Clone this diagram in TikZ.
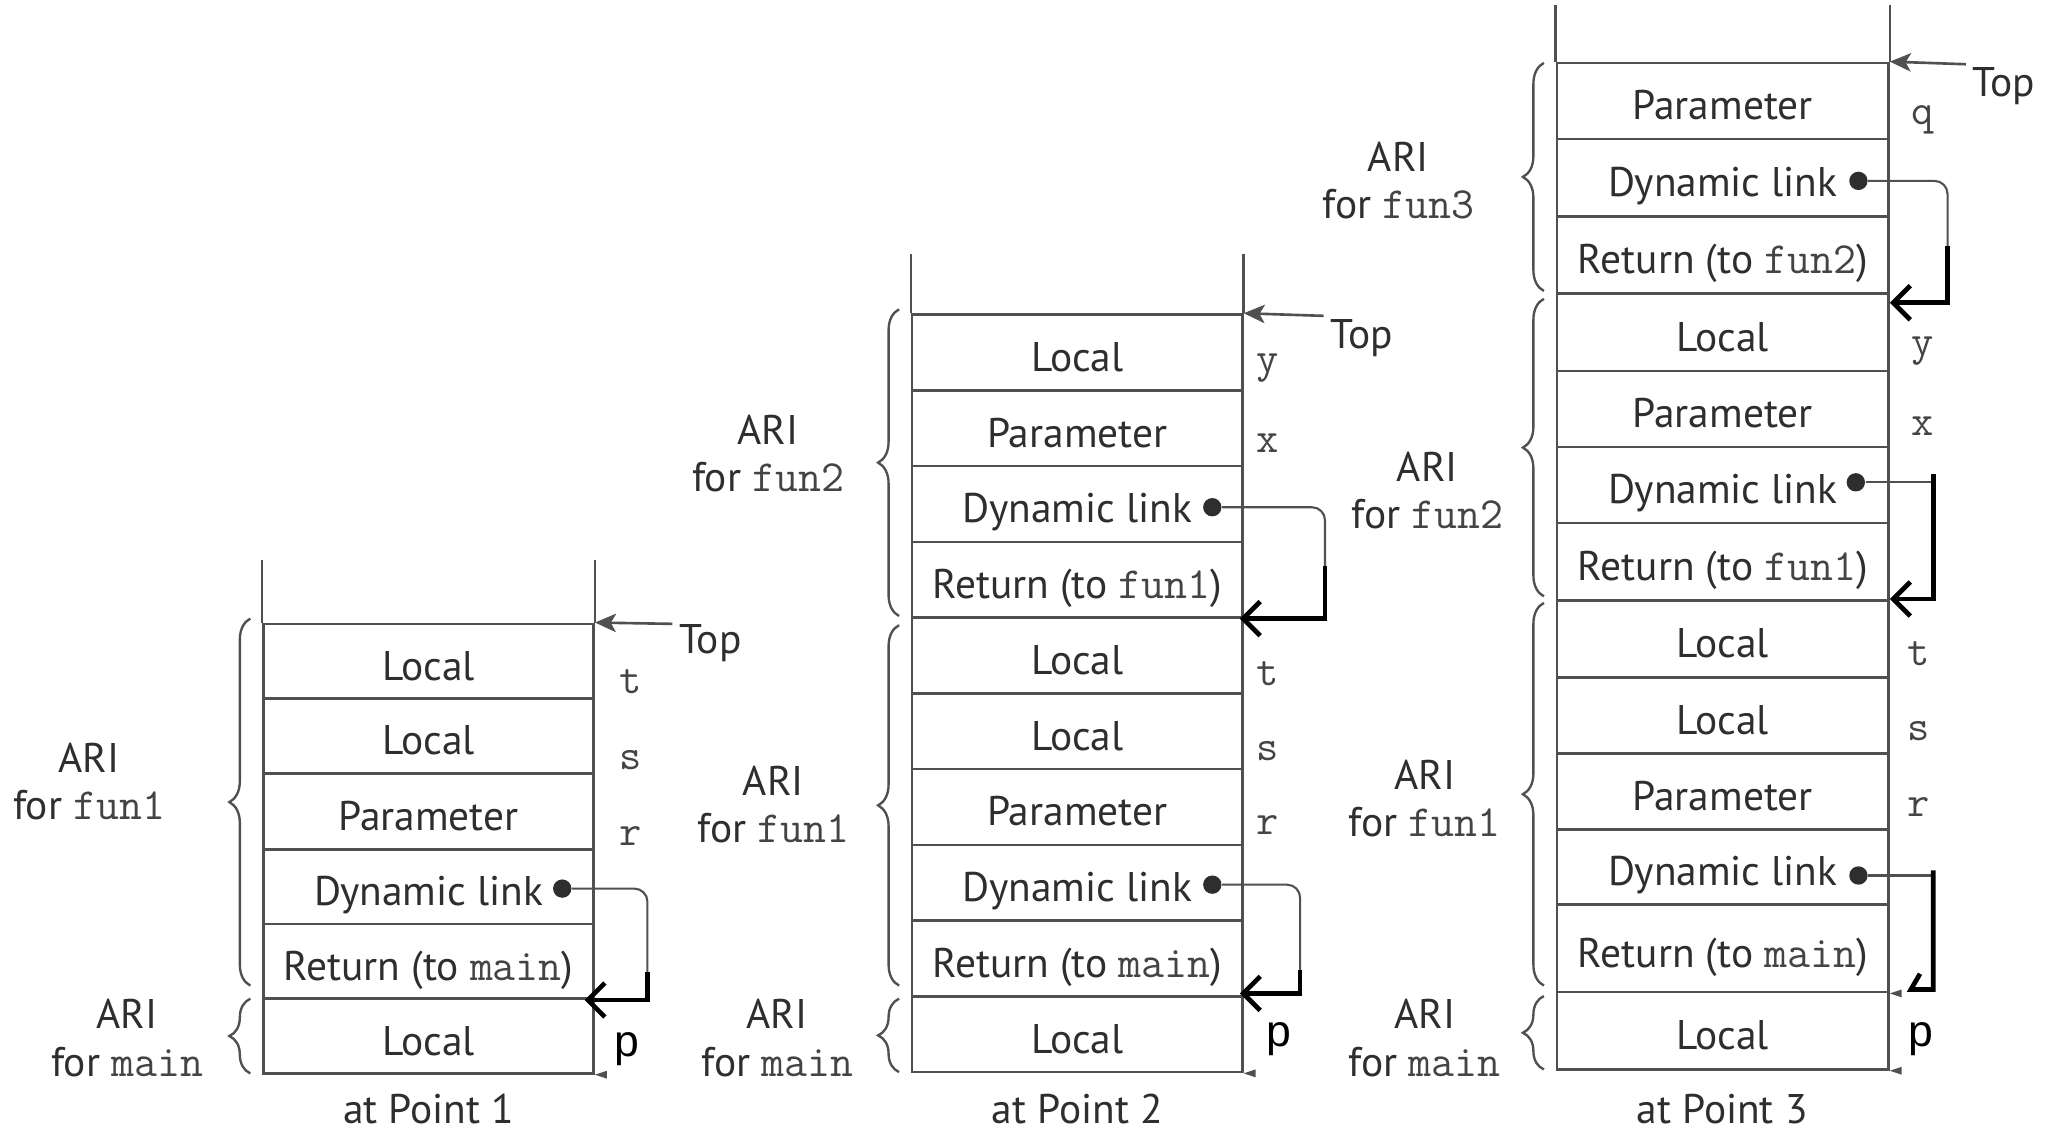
\documentclass[tikz,border=0pt]{standalone}
\usepackage{fontspec}
\setmainfont{PT Sans}
\newfontfamily\pfont{Liberation Sans}
\usetikzlibrary{arrows.meta,decorations.pathreplacing}
\definecolor{ln}{HTML}{505050}
\definecolor{tx}{HTML}{2E2E2E}
\definecolor{mo}{HTML}{444444}
\newcommand{\mtt}[1]{{\ttfamily\fontsize{17}{16}\selectfont\color{mo}#1}}
\begin{document}
\begin{tikzpicture}[x=0.5pt,y=-0.5pt,
  sf/.style={font=\fontsize{15.8}{18}\selectfont, text=tx},
  cell/.style={rectangle, draw=ln, line width=1pt, inner sep=0pt, text height=14.5pt, text depth=0pt, sf},
  ca/.style={cell, minimum width=126pt},
  cc/.style={cell, minimum width=126.5pt},
  var/.style={font=\ttfamily\fontsize{16.5}{16}\selectfont, text=mo, inner sep=0pt, text height=7.1pt, text depth=0pt},
  pl/.style={font=\pfont\fontsize{17}{18}\selectfont, text=black, inner sep=0pt, text height=8.8pt, text depth=0pt},
  ari/.style={sf, align=center, inner sep=0pt},
  dot/.style={circle, fill=tx, inner sep=0pt, minimum size=7pt},
  link/.style={draw=ln, line width=0.8pt, rounded corners=5pt},
  bk/.style={draw=black, line width=1.8pt, -{Straight Barb[length=6.5pt,width=13pt]}},
  bkp/.style={draw=black, line width=1.8pt},
  toparrow/.style={draw=ln, line width=1pt, -{Stealth[length=8pt,width=7pt,inset=2pt]}},
  brc/.style={draw=ln, line width=0.9pt, decorate, decoration={brace, amplitude=8pt}},
  stk/.style={draw=ln, line width=1pt},
  nub/.style={fill=ln},
]
\fill[white] (0,0) rectangle (1568,864);
\useasboundingbox (0,0) rectangle (1568,864);

% ===================== Stack 1 =====================
\node[ca, minimum height=28.5pt] (a1) at (327,504.5) {Local};
\node[ca, minimum height=28.5pt] (a2) at (327,561.5) {Local};
\node[ca, minimum height=29pt]   (a3) at (327,619) {Parameter};
\node[ca, minimum height=28.5pt] (a4) at (327,676.5) {Dynamic link};
\node[ca, minimum height=28.5pt] (a5) at (327,733.5) {Return (to \mtt{main})};
\node[ca, minimum height=28.5pt] (a6) at (327,790.5) {Local};
\draw[stk] (a1.north west) -- ++(0,-48);
\draw[stk] (a1.north east) -- ++(0,-48);

\coordinate (tpa) at (513,476);
\draw[toparrow] (tpa) -- (a1.north east);
\node[sf] (topa) at (542,491) {Top};

\node[var] (at) at (481,522) {t};
\node[var] (as) at (481,580) {s};
\node[var] (ar) at (481,638) {r};
\node[pl] (ap) at (478,797) {p};

\node[dot] (ad) at (429,678) {};
\coordinate (ak) at (494,742);
\coordinate (ae) at (446,763);
\draw[link] (ad) -| (ak);
\draw[bk] (ak) |- (ae);
\fill[nub] (a6.south east) -- ++(9,-3) -- ++(0,6) -- cycle;

\draw[brc] (191,752) -- (191,472);
\draw[brc] (191,819) -- (191,762);
\node[ari] (la1) at (68,596) {ARI\\for \mtt{fun1}};
\node[ari] (la2) at (97,792) {ARI\\for \mtt{main}};
\node[sf] (pa) at (327,846) {at Point 1};

% ===================== Stack 2 =====================
\node[ca, minimum height=28.9pt] (b1) at (822,268.9) {Local};
\node[ca, minimum height=28.9pt] (b2) at (822,326.7) {Parameter};
\node[ca, minimum height=28.9pt] (b3) at (822,384.5) {Dynamic link};
\node[ca, minimum height=28.9pt] (b4) at (822,442.3) {Return (to \mtt{fun1})};
\node[ca, minimum height=28.9pt] (b5) at (822,500.1) {Local};
\node[ca, minimum height=28.9pt] (b6) at (822,557.9) {Local};
\node[ca, minimum height=28.9pt] (b7) at (822,615.7) {Parameter};
\node[ca, minimum height=28.9pt] (b8) at (822,673.5) {Dynamic link};
\node[ca, minimum height=28.9pt] (b9) at (822,731.3) {Return (to \mtt{main})};
\node[ca, minimum height=28.9pt] (b10) at (822,789.1) {Local};
\draw[stk] (b1.north west) -- ++(0,-45);
\draw[stk] (b1.north east) -- ++(0,-45);

\coordinate (tpb) at (1010,241);
\draw[toparrow] (tpb) -- (b1.north east);
\node[sf] (topb) at (1039,258) {Top};

\node[var] (by) at (967,277) {y};
\node[var] (bx) at (967,338) {x};
\node[var] (bt) at (967,516) {t};
\node[var] (bs) at (967,573) {s};
\node[var] (br) at (967,630) {r};
\node[pl] (bp) at (976,790) {p};

\node[dot] (bd1) at (925,387) {};
\coordinate (bk1) at (1011,432);
\coordinate (be1) at (946,472);
\draw[link] (bd1) -| (bk1);
\draw[bk] (bk1) |- (be1);

\node[dot] (bd2) at (925,675) {};
\coordinate (bk2) at (992,740);
\coordinate (be2) at (946,758);
\draw[link] (bd2) -| (bk2);
\draw[bk] (bk2) |- (be2);
\fill[nub] (b10.south east) -- ++(9,-3) -- ++(0,6) -- cycle;

\draw[brc] (686,470) -- (686,236);
\draw[brc] (686,752) -- (686,477);
\draw[brc] (686,818) -- (686,762);
\node[ari] (lb1) at (586,346) {ARI\\for \mtt{fun2}};
\node[ari] (lb2) at (590,614) {ARI\\for \mtt{fun1}};
\node[ari] (lb3) at (593,792) {ARI\\for \mtt{main}};
\node[sf] (pb) at (822,846) {at Point 2};

% ===================== Stack 3 =====================
\node[cc, minimum height=29pt]   (c1) at (1314.5,77) {Parameter};
\node[cc, minimum height=29.5pt] (c2) at (1314.5,135.5) {Dynamic link};
\node[cc, minimum height=29.5pt] (c3) at (1314.5,194.5) {Return (to \mtt{fun2})};
\node[cc, minimum height=29.5pt] (c4) at (1314.5,253.5) {Local};
\node[cc, minimum height=29pt]   (c5) at (1314.5,312) {Parameter};
\node[cc, minimum height=29pt]   (c6) at (1314.5,370) {Dynamic link};
\node[cc, minimum height=29.5pt] (c7) at (1314.5,428.5) {Return (to \mtt{fun1})};
\node[cc, minimum height=29.5pt] (c8) at (1314.5,487.5) {Local};
\node[cc, minimum height=29pt]   (c9) at (1314.5,546) {Local};
\node[cc, minimum height=29pt]   (c10) at (1314.5,604) {Parameter};
\node[cc, minimum height=28.5pt] (c11) at (1314.5,661.5) {Dynamic link};
\node[cc, minimum height=33.5pt] (c12) at (1314.5,723.5) {Return (to \mtt{main})};
\node[cc, minimum height=29.5pt] (c13) at (1314.5,786.5) {Local};
\draw[stk] (c1.north west) -- ++(0,-43);
\draw[stk] (c1.north east) -- ++(0,-43);

\coordinate (tpc) at (1500,49);
\draw[toparrow] (tpc) -- (c1.north east);
\node[sf] (topc) at (1529,66) {Top};

\node[var] (cq) at (1467,88) {q};
\node[var] (cy) at (1467,264) {y};
\node[var] (cx) at (1467,325) {x};
\node[var] (ct) at (1464,501) {t};
\node[var] (cs) at (1464,558) {s};
\node[var] (cr) at (1464,616) {r};
\node[pl] (cp) at (1466,790) {p};

\node[dot] (cd1) at (1418,138) {};
\coordinate (ck1) at (1486,188);
\coordinate (ce1) at (1442,231);
\draw[link] (cd1) -| (ck1);
\draw[bk] (ck1) |- (ce1);

\node[dot] (cd2) at (1416,368) {};
\coordinate (ck2) at (1475,368);
\coordinate (ck2b) at (1475,362);
\coordinate (ce2) at (1442,457);
\draw[link] (cd2) -- (ck2);
\draw[bk] (ck2b) |- (ce2);

\node[dot] (cd3) at (1418,668) {};
\coordinate (ck3) at (1475,668);
\coordinate (ck3b) at (1475,664);
\coordinate (ce3) at (1458,755);
\coordinate (cb3) at (1465,743);
\draw[link] (cd3) -- (ck3);
\draw[bkp] (ck3b) |- (ce3) -- (cb3);
\fill[nub] (c12.south east) -- ++(9,-3) -- ++(0,6) -- cycle;
\fill[nub] (c13.south east) -- ++(9,-3) -- ++(0,6) -- cycle;

\draw[brc] (1178,222) -- (1178,48);
\draw[brc] (1178,455) -- (1178,228);
\draw[brc] (1178,752) -- (1178,460);
\draw[brc] (1178,816) -- (1178,760);
\node[ari] (lc1) at (1067,138) {ARI\\for \mtt{fun3}};
\node[ari] (lc2) at (1089,374) {ARI\\for \mtt{fun2}};
\node[ari] (lc3) at (1087,609) {ARI\\for \mtt{fun1}};
\node[ari] (lc4) at (1087,792) {ARI\\for \mtt{main}};
\node[sf] (pc) at (1314,846) {at Point 3};
\end{tikzpicture}
\end{document}
